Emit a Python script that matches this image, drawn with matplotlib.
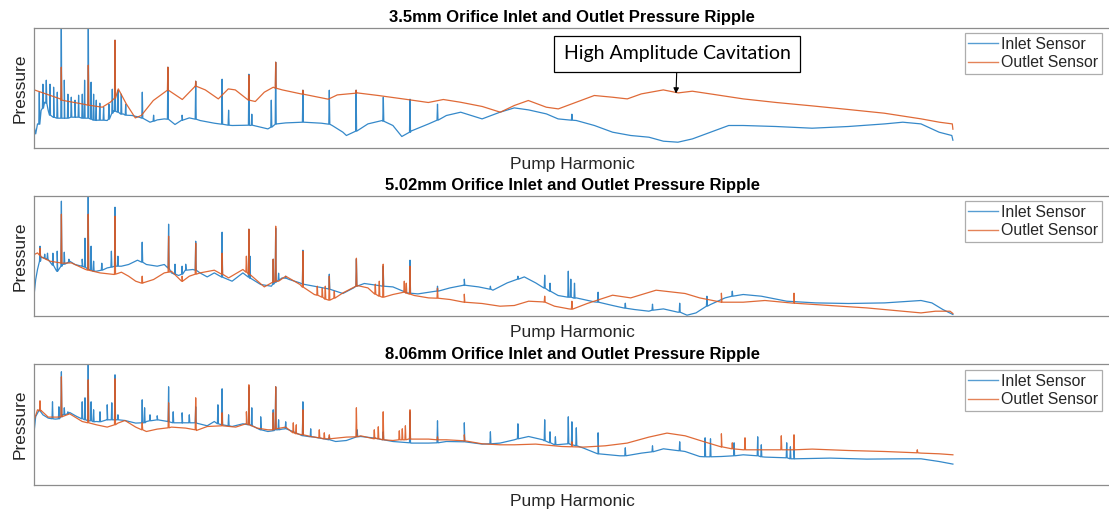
import numpy as np
import matplotlib
matplotlib.use("Agg")
import matplotlib.pyplot as plt

plt.rcParams["font.family"] = ["Liberation Sans", "DejaVu Sans"]

BLUE = "#1f7cc4"
ORANGE = "#dc5a22"
FRAME = "#8c8c8c"
TXT = "#262626"

TITLES = ["3.5mm Orifice Inlet and Outlet Pressure Ripple",
          "5.02mm Orifice Inlet and Outlet Pressure Ripple",
          "8.06mm Orifice Inlet and Outlet Pressure Ripple"]
LABELS = ["Inlet Sensor", "Outlet Sensor"]

# ---- 3.5 mm : smooth trend (harmonic, level) + harmonic spikes (harmonic, base, top)
IN1 = [(0, 21), (1.4, 14.3), (3.2, 24.3), (6.8, 37.7), (10.3, 46), (13.9, 37.7), (19.3, 31),
       (30, 30), (40.7, 31), (51.4, 30), (62.1, 27.7), (72.9, 27.7), (80, 37.7), (88.9, 34.3),
       (97.8, 32.7), (105, 31), (115.7, 26), (122.9, 28.3), (130, 29.3), (140.7, 23.7), (147.8, 28.3),
       (155, 30.3), (165.7, 27.7), (180, 25), (197.8, 22.7), (215.7, 22.7), (233.6, 19.3), (242.5, 24.3),
       (251.4, 25.3), (269.3, 26), (287.1, 25), (297.9, 22.7), (308.6, 16), (312.1, 12.7), (319.3, 16),
       (333.6, 24.3), (347.9, 27.7), (358.6, 22.7), (367.5, 11.7), (376.4, 17), (394.3, 24.3),
       (412.1, 32.7), (426.4, 36), (437.1, 32.7), (447.8, 29.3), (465.7, 36), (480, 40.3), (494.3, 38.3),
       (512.1, 34.3), (523.8, 29.3), (542, 27.7), (560.1, 22.7), (578.3, 16), (596.4, 12.7), (614.6, 11),
       (629.1, 7), (643.6, 6), (658.1, 9.3), (676.2, 16), (694.4, 22.7), (708.9, 22.7), (741.5, 21.7),
       (777.8, 20), (814.1, 21.7), (850.4, 24.3), (868.5, 26), (886.7, 24.3), (904.8, 16), (917.5, 12.7),
       (918.6, 8)]
IN1_SPIKES = [(5, 24, 56), (8.6, 40, 64), (12, 45, 68), (15.7, 33, 64), (19.3, 31, 61), (23, 30, 56),
              (27, 30, 130), (30, 30, 68), (33.6, 30, 54), (37, 31, 51), (40.7, 31, 48), (44.3, 31, 53),
              (48, 30, 54), (50.3, 30, 68), (54, 30, 130), (56.8, 29, 66), (59.3, 28, 54), (62, 28, 48),
              (65.5, 28, 45), (69.3, 28, 41), (74.6, 29, 44), (78, 35, 59), (80.7, 37, 108), (83.6, 36, 58),
              (87, 34, 54), (91.4, 33, 44), (108, 30, 56), (119.3, 27, 33), (133.6, 29, 81), (147.8, 28, 33),
              (161.4, 29, 67), (187.8, 24, 69), (194.3, 23, 38), (214.6, 23, 74), (217.5, 23, 34),
              (237, 21, 48), (241.4, 24, 86), (268.6, 26, 58), (295, 24, 58), (321.8, 17, 58),
              (349, 27, 51), (375.7, 16, 49), (403.2, 28, 44), (537.6, 28, 34)]
OUT1 = [(0, 58.3), (26, 49.3), (51, 43.7), (68, 41), (76, 46), (84, 59.3), (92, 44.3), (101, 30.3),
        (107, 32.7), (119, 47.7), (134, 58.3), (148, 48.7), (161, 61.7), (171, 58.3), (184, 49.3),
        (194, 59.3), (201, 58.3), (221, 46.7), (230, 56), (239, 61), (248, 58.3), (269, 54.3), (294, 49),
        (303, 53.3), (323, 55.3), (344, 52.7), (373, 48.7), (394, 45.7), (409, 48.7), (426, 46),
        (448, 41.7), (466, 36), (480, 42.7), (494, 47.7), (512, 41), (524, 39.3), (542, 46), (560, 52.7),
        (578, 51), (593, 49.3), (607, 54.3), (629, 58.3), (644, 55.3), (658, 57), (680, 53.7),
        (709, 49.3), (742, 45.7), (778, 42.3), (814, 38.7), (850, 35), (887, 29.3), (905, 26),
        (918, 24.3), (918.6, 19)]
OUT1_SPIKES = [(27, 48, 81), (54, 43, 83), (80.7, 50, 108), (133.6, 58, 81), (161.4, 62, 67),
               (214.6, 48, 73), (241.4, 60, 86), (268.6, 54, 58), (321.8, 55, 58)]

# ---- 5.02 mm
IN2 = [(0, 23.3), (1.4, 36.7), (3.2, 46.7), (6.8, 59.3), (12.1, 56.7), (17.5, 51.7), (22.9, 45),
       (28.2, 51.7), (35.4, 55), (40.7, 51.7), (47.9, 50), (55, 46.7), (62.1, 45), (72.9, 48.3),
       (80, 50), (87.1, 50), (94.3, 51.7), (103.2, 56), (112.1, 51.7), (122.9, 50), (130, 51.7),
       (137.1, 43.3), (144.3, 40.7), (151.4, 46.7), (158.6, 46.7), (165.7, 43.3), (172.9, 39.3),
       (180, 43.3), (187.1, 39.3), (197.8, 35), (208.6, 43.3), (215.7, 38.3), (226.4, 31.7), (237.1, 30),
       (247.8, 38.3), (255, 36.7), (265.7, 33.3), (280, 30), (294.3, 27.3), (308.6, 22.7), (319.3, 28.3),
       (330, 32.7), (344.3, 30.7), (358.6, 29.3), (372.9, 23.3), (383.6, 22.3), (401.4, 25),
       (415.7, 28.3), (430, 30.7), (444.3, 29.3), (458.6, 26), (472.9, 33.3), (490, 39.3), (501.4, 33.3),
       (515.7, 25), (523.8, 20.7), (542, 18.3), (560.1, 14.3), (578.3, 10.7), (600, 6.7), (614.6, 5),
       (629.1, 7.3), (643.6, 4), (652.7, 1), (661.7, 3.3), (676.2, 11.7), (690.7, 18.3), (708.9, 21.7),
       (727, 20), (752.4, 15), (781.5, 13.3), (814.1, 12.7), (850.4, 13.3), (886.7, 15.7), (897.6, 13.3),
       (908.5, 6.7), (918.6, 1.7)]
IN2_SPIKES = [(5.7, 55, 70), (10.4, 58, 62), (13.2, 57, 63), (18.6, 51, 63), (22.9, 45, 65),
              (27.1, 50, 115), (30, 52, 64), (34.6, 54, 57), (47.9, 50, 57), (50.7, 49, 78),
              (53.9, 47, 125), (56.8, 46, 70), (59.3, 45, 55), (67.5, 46, 53), (77.1, 49, 65),
              (80.7, 50, 109), (83.6, 50, 60), (107.9, 54, 74), (134.3, 48, 92), (140.7, 42, 52),
              (147.8, 42, 50), (151.4, 46, 52), (161.4, 46, 75), (187.8, 39, 84), (214.6, 39, 87),
              (215.7, 38, 60), (238.9, 32, 57), (241.4, 34, 88), (244.3, 36, 43), (251.4, 38, 40),
              (268.6, 32, 66), (295, 27, 42), (322.1, 30, 57), (348.9, 30, 50), (375.7, 23, 56),
              (403.2, 25, 30), (430, 31, 37), (456.1, 27, 30), (483.6, 37, 40), (510.4, 28, 41),
              (515.7, 25, 33), (534, 19, 45), (536.5, 19, 37), (540.2, 18, 33), (563.8, 14, 24),
              (591, 8, 13), (618.2, 6, 12), (645.4, 4, 13), (672.6, 10, 20), (698, 20, 25)]
OUT2 = [(0, 61.7), (3.2, 63.3), (6.8, 59.3), (15.7, 55), (26.4, 53.3), (37.1, 53.3), (51.4, 46.7),
        (65.7, 43.3), (80, 41.7), (87.1, 44), (94.3, 40), (101.4, 35), (108.6, 33.3), (119.3, 36.7),
        (130, 43.3), (137.1, 45), (147.8, 35), (155, 40), (165.7, 43.3), (180, 46), (194.3, 38.3),
        (208.6, 46.7), (215.7, 41.7), (230, 29.3), (244.3, 35), (251.4, 40), (265.7, 31.7), (280, 21.7),
        (294.3, 16), (308.6, 23.3), (322.9, 30.7), (333.6, 28.3), (347.9, 19), (358.6, 21.7), (369.3, 24),
        (380, 20.7), (394.3, 18.3), (415.7, 16.7), (430, 14.3), (447.8, 12.7), (465.7, 10), (480, 10.7),
        (494.3, 15), (508.6, 14.3), (520.2, 10), (534.7, 7.3), (552.9, 12.7), (578.3, 21), (596.4, 18.3),
        (621.8, 26), (650.8, 22.7), (665.4, 18.3), (687.1, 14), (708.9, 14), (730.7, 15.7),
        (759.7, 13.3), (796, 10.7), (832.3, 8.3), (868.5, 5), (886.7, 3.3), (901.2, 5), (915.7, 5),
        (918.6, 2.7)]
OUT2_SPIKES = [(5.7, 61, 68), (27.1, 53, 102), (53.9, 46, 102), (80.7, 42, 100), (107.9, 33, 40),
               (134.3, 44, 80), (147.8, 35, 40), (161.4, 42, 73), (187.8, 42, 63), (212.1, 44, 60),
               (214.6, 42, 87), (238.9, 34, 57), (241.4, 35, 90), (268.6, 29, 65), (283, 21, 30),
               (288, 19, 28), (291, 17, 30), (295, 16, 40), (300, 18, 25), (322.1, 30, 58),
               (341, 22, 32), (345, 20, 35), (348.9, 19, 52), (370, 24, 35), (372, 23, 33),
               (375.7, 22, 50), (403.2, 18, 28), (430, 14, 22), (510.4, 14, 20), (537.6, 7, 15),
               (687.1, 14, 23), (759.7, 13, 23)]

# ---- 8.06 mm
IN3 = [(0, 55), (1.4, 68.3), (5, 75), (8.6, 70), (13.9, 66.7), (21, 65.7), (28.2, 70), (35.4, 72.3),
       (42.5, 68.3), (51.4, 65), (62.1, 63.3), (72.9, 65), (83.6, 65.7), (90.7, 64.3), (101.4, 61.7),
       (112.1, 63.3), (122.9, 65), (133.6, 63.3), (147.8, 61.7), (162.1, 61.7), (172.9, 59), (180, 63.3),
       (187.1, 60), (197.8, 58.3), (208.6, 61), (215.7, 60), (226.4, 55), (233.6, 53.3), (247.8, 55.7),
       (258.6, 53.3), (269.3, 49), (280, 47.7), (290.7, 45.7), (301.4, 43.3), (312.1, 44.3),
       (326.4, 48.3), (340.7, 46.7), (358.6, 43.3), (376.4, 41.7), (394.3, 41.7), (412.1, 43.3),
       (430, 43.3), (447.8, 40.7), (465.7, 41.7), (480, 45), (494.3, 48.3), (508.6, 45), (520.2, 40),
       (534.7, 41), (549.2, 36.7), (563.8, 31), (585.5, 29), (607.3, 31.7), (629.1, 36), (650.8, 33.3),
       (665.4, 28.3), (687.1, 28.3), (708.9, 30), (730.7, 27.7), (759.7, 26), (796, 26.7), (832.3, 25.7),
       (868.5, 26), (886.7, 26), (904.8, 23.3), (918.6, 20.7)]
IN3_SPIKES = [(18.2, 66, 83), (24.6, 66, 78), (27.1, 68, 113), (30, 70, 77), (33.6, 71, 73),
              (47.9, 66, 83), (50.7, 65, 87), (53.9, 64, 125), (56.8, 64, 83), (59.3, 63, 75),
              (65.7, 63, 73), (72.9, 65, 80), (77.5, 65, 82), (80.7, 65, 110), (83.6, 65, 70),
              (107.9, 62, 85), (110.3, 62, 77), (115.7, 64, 70), (122.9, 65, 69), (134.3, 63, 98),
              (138.9, 62, 73), (147.8, 62, 72), (155, 62, 70), (161.4, 62, 78), (183.6, 61, 80),
              (187.8, 60, 96), (194.3, 59, 70), (214.6, 60, 98), (217.5, 59, 77), (226.4, 55, 68),
              (238.9, 54, 75), (241.4, 55, 98), (244.3, 55, 65), (251.4, 56, 63), (268.6, 49, 83),
              (276.4, 48, 56), (295, 45, 48), (322.9, 48, 55), (348.9, 45, 53), (375.7, 42, 73),
              (403.2, 42, 64), (430, 43, 62), (456.1, 41, 53), (483.6, 46, 61), (510.4, 44, 65),
              (515.7, 42, 53), (521.1, 40, 48), (534, 41, 68), (537.6, 40, 63), (542, 39, 57),
              (563.8, 31, 52), (591, 29, 37), (618.2, 33, 39), (645.4, 34, 43), (670.8, 28, 47),
              (676.2, 28, 46), (699.8, 29, 42), (723.4, 29, 48), (727, 28, 40), (752.4, 27, 42),
              (756.1, 26, 38), (759.7, 26, 35)]
OUT3 = [(0, 65), (3.2, 75), (6.8, 74.3), (13.9, 67.7), (22.9, 67.7), (35.4, 71), (47.9, 63.3),
        (62.1, 60), (72.9, 57.7), (83.6, 61.7), (90.7, 64.3), (101.4, 57.7), (112.1, 53.3), (122.9, 55.7),
        (137.1, 57.7), (151.4, 56.7), (162.1, 54.3), (172.9, 58.3), (187.1, 59), (201.4, 57.7),
        (212.1, 61.7), (222.9, 56.7), (233.6, 55), (251.4, 57.7), (262.1, 51.7), (276.4, 48.3), (294.3, 46),
        (312.1, 47.7), (326.4, 49), (340.7, 46.7), (358.6, 44.3), (376.4, 45.7), (394.3, 45.7),
        (412.1, 45), (430, 44), (447.8, 41), (465.7, 40), (480, 40), (501.4, 40.7), (527.5, 38.3),
        (549.2, 37.7), (571, 39), (592.8, 41.7), (614.6, 47.7), (632.7, 51.7), (650.8, 49), (669, 43.3),
        (687.1, 37.7), (708.9, 35), (741.5, 35), (777.8, 35.7), (814.1, 34.3), (850.4, 33.3),
        (886.7, 31.7), (904.8, 31), (918.6, 30)]
OUT3_SPIKES = [(5.7, 74, 84), (27.1, 68, 108), (53.9, 62, 105), (80.7, 60, 106), (107.9, 55, 62),
               (134.3, 57, 82), (161.4, 55, 87), (187.8, 59, 72), (212.1, 61, 73), (214.6, 60, 100),
               (238.9, 55, 72), (241.4, 56, 98), (259, 52, 62), (262, 51, 60), (268.6, 50, 75),
               (285, 47, 55), (290, 46, 52), (295, 46, 50), (322.1, 48, 77), (340, 46, 55), (344, 46, 58),
               (348.9, 45, 73), (365, 45, 54), (368, 45, 56), (371.1, 45, 59), (375.7, 46, 75),
               (403.2, 45, 48), (430, 44, 50), (537.6, 38, 43), (687.1, 38, 51), (698, 36, 42),
               (710.7, 35, 47), (747, 35, 49), (759.7, 35, 50), (883, 32, 35)]

PANELS = [(IN1, IN1_SPIKES, OUT1, OUT1_SPIKES),
          (IN2, IN2_SPIKES, OUT2, OUT2_SPIKES),
          (IN3, IN3_SPIKES, OUT3, OUT3_SPIKES)]


def trace(trend, spikes, w=0.5):
    xs = [p[0] for p in trend]
    ys = [p[1] for p in trend]
    for x, b, t in spikes:
        xs += [x - w, x, x + w]
        ys += [b, t, b]
    order = np.argsort(xs, kind="stable")
    return np.asarray(xs)[order], np.asarray(ys)[order]


fig = plt.figure(figsize=(11.09, 5.15), dpi=100)
W, H = 1109.0, 515.0
tops = [27.7, 195.7, 364.3]
AX_L, AX_R, AX_H = 34.3, 1110.0, 120.5

for k, (inl, inl_s, out, out_s) in enumerate(PANELS):
    ax = fig.add_axes([AX_L / W, (H - tops[k] - AX_H) / H, (AX_R - AX_L) / W, AX_H / H])
    x, y = trace(inl, inl_s)
    ax.plot(x, y, color=BLUE, lw=0.9, alpha=0.9, label=LABELS[0])
    x, y = trace(out, out_s)
    ax.plot(x, y, color=ORANGE, lw=0.9, alpha=0.9, label=LABELS[1])
    ax.set_xlim(0, AX_R - AX_L)
    ax.set_ylim(0, AX_H)
    ax.set_xticks([]); ax.set_yticks([])
    for s in ax.spines.values():
        s.set_color(FRAME); s.set_linewidth(0.9)
    ax.set_title(TITLES[k], fontsize=12, fontweight="bold", pad=4)
    ax.set_xlabel("Pump Harmonic", fontsize=12.5, color=TXT, labelpad=6.5)
    ax.set_ylabel("Pressure", fontsize=12.5, color=TXT, labelpad=4.5)
    leg = ax.legend(loc="upper right", bbox_to_anchor=(0.9926, 0.956), borderaxespad=0,
                    fontsize=11.4, frameon=True, fancybox=False, handlelength=1.85,
                    handletextpad=0.2, labelspacing=0.22, borderpad=0.25)
    leg.get_frame().set_edgecolor("#999999"); leg.get_frame().set_linewidth(0.9)
    for ln in leg.get_lines():
        ln.set_linewidth(1.0); ln.set_alpha(0.75)
    for t in leg.get_texts():
        t.set_color(TXT)
    if k == 0:
        ax.annotate("High Amplitude Cavitation", xy=(641.7, 54.7), xytext=(643, 94.2),
                    ha="center", va="center", fontsize=14, family=["Lato", "DejaVu Sans"],
                    bbox=dict(boxstyle="square,pad=0.5", fc="white", ec="black", lw=0.9),
                    arrowprops=dict(arrowstyle="-|>", color="black", lw=0.8, mutation_scale=8,
                                    shrinkA=0, shrinkB=0))

fig.savefig("out.png", dpi=100)
